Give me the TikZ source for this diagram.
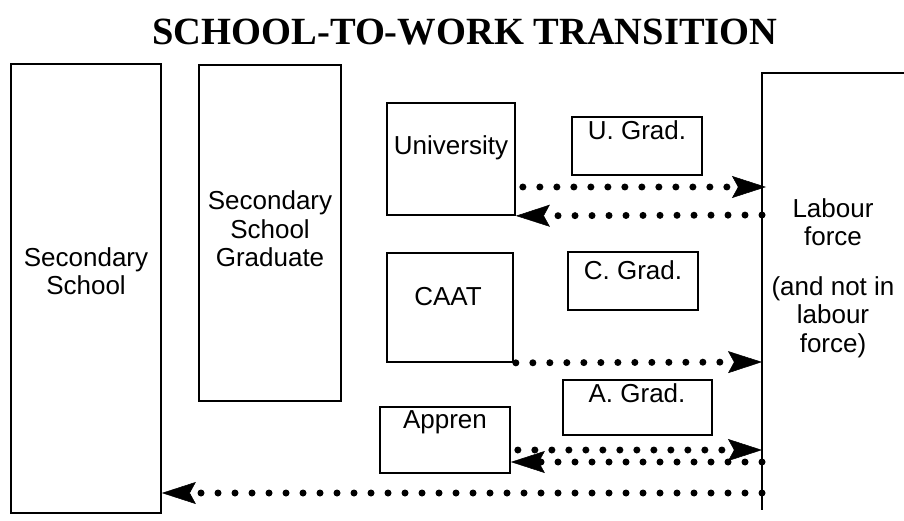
\documentclass[tikz,border=0pt]{standalone}
\usepackage{fontspec}
\setmainfont{Liberation Sans}
\newfontfamily\titlefont{Liberation Serif}
\usetikzlibrary{arrows.meta}
\begin{document}
\begin{tikzpicture}[x=1pt,y=-1pt,
  box/.style={draw, line width=1.7pt, inner sep=0pt},
  edge/.style={line width=1.7pt},
  lbl/.style={font=\fontsize{26}{28.5}\selectfont, align=center, inner sep=0pt},
  flow/.style={line width=7pt, line cap=round, dash pattern=on 0pt off 17pt,
    -{Stealth[length=34pt,width=22pt,inset=6pt,line width=0.5pt]}},
]
\fill[white] (0,0) rectangle (904,521);
\useasboundingbox (0,0) rectangle (904,521);
\clip (0,0) rectangle (904,521);

% title
\node[font=\titlefont\bfseries\fontsize{38.5}{40}\selectfont, anchor=base, inner sep=0pt]
  (title) at (465,45) {SCHOOL-TO-WORK TRANSITION};

% stages
\node[box, minimum width=150pt, minimum height=449pt] (ss)  at (86,288.5) {};
\node[box, minimum width=142pt, minimum height=336pt] (ssg) at (270,233) {};
\node[box, minimum width=128pt, minimum height=112pt] (uni) at (451,159) {};
\node[box, minimum width=130pt, minimum height=58pt]  (ugr) at (637,146) {};
\node[box, minimum width=126pt, minimum height=109pt] (caat) at (450,307.5) {};
\node[box, minimum width=130pt, minimum height=58pt]  (cgr) at (633,281) {};
\node[box, minimum width=149pt, minimum height=55pt]  (agr) at (637.5,407.5) {};
\node[box, minimum width=130pt, minimum height=66pt]  (app) at (445,440) {};

% labour force block, open to the right
\node[minimum width=160pt, minimum height=437pt, anchor=north west, inner sep=0pt]
  (lab) at (762,73) {};
\draw[edge] (lab.north east) -- (lab.north west) -- (lab.south west);

% labels
\node[lbl] (tss)   at (86,271)  {Secondary\\School};
\node[lbl] (tssg)  at (270,229) {Secondary\\School\\Graduate};
\node[lbl] (tuni)  at (451,148) {University};
\node[lbl] (tugr)  at (637,130) {U. Grad.};
\node[lbl] (tcaat) at (448,297) {CAAT};
\node[lbl] (tcgr)  at (633,270) {C. Grad.};
\node[lbl] (tagr)  at (637,393) {A. Grad.};
\node[lbl] (tapp)  at (445,422) {Appren};
\node[lbl] (tlab)  at (833,222) {Labour\\force};
\node[lbl] (tnot)  at (833,317) {(and not in\\labour\\force)};

% flows
\draw[flow, shorten <=7pt] (uni.east |- 0,187) -- ([xshift=4pt]lab.west |- 0,187);
\draw[flow] (lab.west |- 0,215) -- (uni.south east);
\draw[flow, shorten <=2pt] (caat.south east) -- (lab.west |- 0,362);
\draw[flow, shorten <=7pt] (app.east |- 0,450) -- (lab.west |- 0,450);
\draw[flow] (lab.west |- 0,462) -- (app.east |- 0,462);
\draw[flow] (lab.west |- 0,493) -- (ss.east |- 0,493);
\end{tikzpicture}
\end{document}
